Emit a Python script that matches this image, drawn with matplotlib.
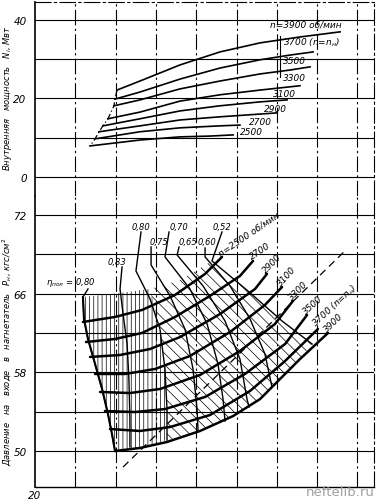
import matplotlib.pyplot as plt

plt.rcParams["font.family"] = ["DejaVu Sans"]
plt.rcParams["mathtext.fontset"] = "dejavusans"
plt.rcParams["hatch.linewidth"] = 0.5

# --- upper chart: internal power N_i (MW) against flow, one curve per speed
top_labels = ["n=3900 об/мин", "3700 (n=n$_н$)", "3500", "3300",
              "3100", "2900", "2700", "2500"]
top_q = [
    [24.07, 25.21, 27.20, 29.18, 31.17, 33.15, 35.14],
    [23.97, 25.21, 27.20, 29.18, 31.17, 32.66, 33.80],
    [23.92, 25.21, 27.20, 29.18, 31.17, 32.66, 33.65],
    [23.62, 25.21, 27.20, 29.18, 31.17, 33.15],
    [23.37, 25.21, 27.20, 29.18, 31.17, 32.51],
    [23.18, 25.21, 27.20, 29.18, 31.17, 32.01],
    [22.98, 25.21, 27.20, 29.18, 30.17],
    [22.73, 25.21, 27.20, 28.68, 29.83],
]
top_n = [
    [22.1, 24.4, 28.5, 31.8, 34.1, 35.6, 36.9],
    [19.8, 21.6, 24.9, 27.7, 29.8, 31.0, 31.8],
    [18.1, 19.6, 22.4, 24.4, 26.2, 27.2, 28.0],
    [14.8, 16.5, 19.3, 20.9, 22.1, 23.2],
    [13.0, 14.8, 16.8, 18.1, 19.1, 19.6],
    [11.5, 13.0, 14.5, 15.3, 16.0, 16.3],
    [9.7, 11.5, 12.5, 13.0, 13.2],
    [7.9, 9.4, 10.2, 10.4, 10.7],
]
top_label_q = [31.66, 32.31, 32.31, 32.31, 31.81, 31.36, 30.62, 30.17]
top_label_n = [38.9, 34.4, 29.5, 25.2, 21.1, 17.3, 14.2, 11.5]

# --- lower chart: inlet pressure P_н (kgf/cm2) against flow
bot_labels = ["n=2500 об/мин", "2700", "2900", "3100", "3300", "3500",
              "3700 (n=n$_н$)", "3900"]
bot_q = [
    [22.38, 23.97, 25.31, 26.95, 28.44, 29.28],
    [22.53, 23.97, 25.31, 26.95, 28.68, 30.17, 30.82],
    [22.73, 24.22, 25.71, 27.20, 29.18, 30.92, 31.51],
    [22.98, 24.47, 25.96, 27.69, 29.68, 31.41, 32.26],
    [23.23, 24.71, 26.20, 28.19, 30.17, 31.91, 32.80],
    [23.47, 24.96, 26.45, 28.44, 30.42, 32.41, 33.50],
    [23.72, 25.21, 26.70, 28.68, 30.67, 32.41, 34.04],
    [23.97, 25.21, 26.55, 28.19, 29.83, 31.17, 32.16, 33.15, 33.90, 34.54],
]
bot_p = [
    [63.13, 63.64, 64.35, 65.88, 68.02, 69.75],
    [61.09, 61.40, 62.01, 63.64, 65.78, 67.81, 69.34],
    [59.57, 59.77, 60.38, 61.60, 63.94, 66.49, 68.02],
    [57.84, 57.84, 58.35, 59.67, 62.11, 64.86, 66.69],
    [56.01, 55.90, 56.31, 57.74, 60.18, 62.93, 65.27],
    [54.07, 53.97, 54.27, 55.50, 57.84, 60.89, 63.84],
    [52.24, 52.04, 52.44, 53.66, 56.11, 59.16, 62.42],
    [50.00, 50.31, 50.92, 52.04, 53.56, 55.29, 57.33, 59.36, 60.79, 62.01],
]
bot_label_rot = [34, 34, 46, 48, 45, 42, 43, 44]

# efficiency lines (first point = top of the leader)
eta_labels = [r"$\eta_{пол}$ = 0,80", "0,83", "0,80", "0,75",
              "0,70", "0,65", "0,60", "0,52"]
eta_q = [
    [22.63, 22.38, 22.43, 22.63, 22.98, 23.33, 23.62, 23.82, 23.97],
    [24.32, 24.22, 24.37, 24.57, 24.66, 24.71, 24.71],
    [25.26, 25.01, 25.71, 26.20, 26.45, 26.55, 26.55],
    [25.76, 25.76, 26.70, 27.44, 27.84, 28.04, 28.09],
    [26.65, 26.45, 27.69, 28.54, 29.08, 29.33, 29.43],
    [27.15, 27.05, 28.34, 29.43, 30.17, 30.52, 30.62],
    [28.44, 28.44, 29.68, 30.67, 31.41, 31.76],
    [29.28, 28.78, 30.57, 32.26, 33.75],
]
eta_p = [
    [66.49, 65.67, 63.44, 61.40, 58.86, 56.31, 53.77, 51.73, 50.00],
    [68.73, 66.49, 63.94, 60.89, 57.33, 53.26, 50.41],
    [72.29, 68.32, 65.47, 62.42, 58.35, 54.27, 51.12],
    [70.76, 68.93, 65.78, 62.42, 58.35, 54.27, 52.14],
    [72.29, 69.75, 66.49, 62.93, 58.86, 55.29, 53.05],
    [70.76, 69.95, 66.79, 63.23, 59.36, 55.29, 54.48],
    [70.66, 69.75, 66.79, 63.44, 59.87, 56.51],
    [72.29, 69.34, 66.28, 63.23, 60.89],
]
eta_label_q = [22.98, 23.62, 24.81, 25.71, 26.70, 27.10, 28.09, 28.83]
eta_label_p = [67.20, 69.24, 72.80, 71.27, 72.80, 71.27, 71.27, 72.80]

# hatched field of the characteristic (two parts with different hatch slant)
field_left_q = [22.38, 24.22, 25.71, 26.20, 26.45, 26.55, 26.55, 25.21,
                23.97, 23.62, 23.33, 22.98, 22.63, 22.43]
field_left_p = [65.67, 66.08, 66.49, 62.42, 58.35, 54.27, 51.12, 50.31,
                50.00, 53.77, 56.31, 58.86, 61.40, 63.44]
field_right_q = [25.71, 27.20, 28.78, 30.57, 32.26, 33.75, 33.15, 32.16,
                 31.17, 29.83, 28.19, 26.55, 26.55, 26.45, 26.20]
field_right_p = [66.49, 67.40, 69.34, 66.28, 63.23, 60.89, 59.36, 57.33,
                 55.29, 53.56, 52.04, 51.12, 54.27, 58.35, 62.42]

surge_q = [24.37, 35.48]
surge_p = [48.37, 70.56]

q_grid = [22, 24, 26, 28, 30, 32, 34, 36]
n_grid = [0, 10, 20, 30, 40]
p_grid = [50, 54, 58, 62, 66, 70, 74]
n_ticks = [0, 20, 40]
p_ticks = [50, 58, 66, 74]
p_ticklabels = ["50", "58", "66", "72"]

fig = plt.figure(figsize=(3.8, 5.02), dpi=100)
ax_top = fig.add_axes([0.0921, 0.6076, 0.892, 0.3865])
ax_bot = fig.add_axes([0.0921, 0.0279, 0.892, 0.5797])

ax_top.set_xlim(20, 36.82)
ax_top.set_ylim(-4.83, 44.5)
ax_bot.set_xlim(20, 36.82)
ax_bot.set_ylim(46.34, 75.95)

dashdot = (0, (14, 3, 2, 3))
for ax, ygrid in ((ax_top, n_grid), (ax_bot, p_grid)):
    for q in q_grid:
        ax.axvline(q, color="black", lw=0.8, ls=dashdot, zorder=1)
    for y in ygrid:
        ax.axhline(y, color="black", lw=0.8, zorder=1)
    ax.tick_params(length=0, labelsize=7.5, pad=6)
    ax.spines["left"].set_linewidth(1.2)
    ax.spines["right"].set_linestyle(dashdot)
    ax.spines["right"].set_linewidth(0.8)

ax_top.spines["bottom"].set_visible(False)
ax_top.spines["top"].set_linestyle(dashdot)
ax_top.spines["top"].set_linewidth(0.8)
ax_bot.spines["top"].set_visible(False)
ax_bot.spines["bottom"].set_linewidth(1.0)

ax_top.set_xticks([])
ax_top.set_yticks(n_ticks)
ax_bot.set_xticks([20])
ax_bot.tick_params(axis="x", pad=2)
ax_bot.set_yticks(p_ticks)
ax_bot.set_yticklabels(p_ticklabels)
for ax in (ax_top, ax_bot):
    for lab in ax.get_xticklabels() + ax.get_yticklabels():
        lab.set_fontstyle("italic")

ax_top.set_ylabel("Внутренняя   мощность   $N_i$, Мвт", fontsize=6,
                  style="italic")
ax_top.yaxis.set_label_coords(-0.063, 0.51)
ax_bot.set_ylabel("Давление   на   входе   в   нагнетатель   $P_н$, кгс/см$^2$",
                  fontsize=6, style="italic")
ax_bot.yaxis.set_label_coords(-0.063, 0.467)

# upper chart
for q, n in zip(top_q, top_n):
    ax_top.plot(q, n, color="black", lw=1.2, zorder=3)
ax_top.plot([q[0] for q in top_q], [n[0] for n in top_n], color="black",
            lw=0.9, ls=(0, (5, 2, 1, 2)), zorder=3)
ax_top.plot([32.16, 32.16], [35.9, 25.4], color="black", lw=0.8, zorder=3)
for lab, x, y in zip(top_labels, top_label_q, top_label_n):
    ax_top.text(x, y, lab, fontsize=6.5, style="italic", ha="left",
                va="center", zorder=4)

# lower chart: hatched field
ax_bot.fill(field_left_q, field_left_p, facecolor="none", edgecolor="black",
            hatch="||||", lw=0, zorder=2)
ax_bot.fill(field_right_q, field_right_p, facecolor="none", edgecolor="black",
            hatch="\\\\\\", lw=0, zorder=2)

for q, p in zip(eta_q, eta_p):
    ax_bot.plot(q, p, color="black", lw=1.0, zorder=3)
ax_bot.plot(eta_q[0][1:], eta_p[0][1:], color="black", lw=1.5, zorder=3)
for i, (lab, x, y) in enumerate(zip(eta_labels, eta_label_q, eta_label_p)):
    ax_bot.text(x, y, lab, fontsize=6, style="italic",
                ha="right" if i == 0 else "left", va="center", zorder=4)

for q, p in zip(bot_q, bot_p):
    ax_bot.plot(q, p, color="black", lw=1.8, solid_capstyle="round", zorder=4)
for lab, q, p, rot in zip(bot_labels, bot_q, bot_p, bot_label_rot):
    ax_bot.text(q[-1], p[-1], lab, fontsize=6.5, style="italic", rotation=rot,
                rotation_mode="anchor", ha="left", va="bottom", zorder=5)

ax_bot.plot(surge_q, surge_p, color="black", lw=0.9, ls=(0, (6, 4)), zorder=4)

fig.text(0.985, 0.006, "neftelib.ru", ha="right", va="bottom",
         color="#a0a0a0", fontsize=9.5)

fig.savefig("out.png", dpi=100)
